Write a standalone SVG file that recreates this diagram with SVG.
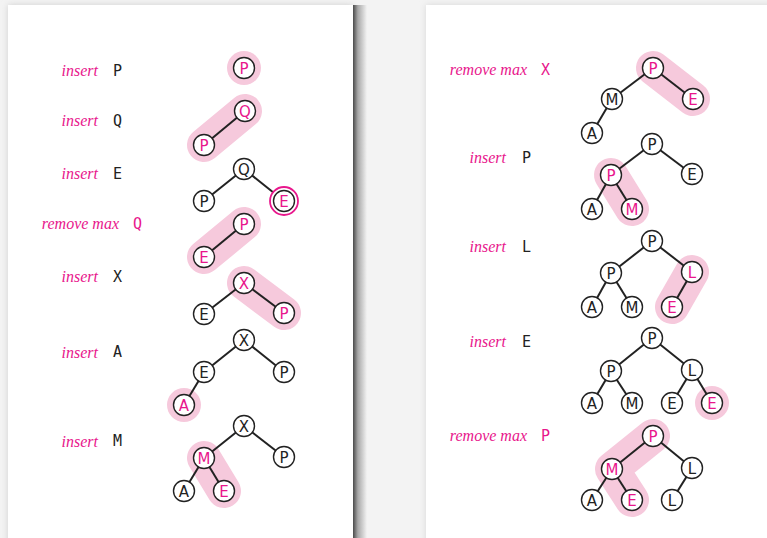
<svg xmlns="http://www.w3.org/2000/svg" width="767" height="538" viewBox="0 0 767 538">
<defs>
<style>
.op{font-family:"Liberation Serif",serif;font-style:italic;font-size:16px;fill:#e8168c;text-anchor:end}
.key{font-family:"DejaVu Sans Mono",monospace;font-size:15px;fill:#222}
.key.m{fill:#e8168c}
.n circle{fill:#fff;stroke:#222;stroke-width:1.4}
.n text{font-family:"DejaVu Sans",sans-serif;font-size:15px;fill:#222;text-anchor:middle}
.n.m text{fill:#e8168c}
.e line{stroke:#222;stroke-width:2}
.h line,.h polyline{stroke:#f6c9dc;stroke-width:34;stroke-linecap:round;stroke-linejoin:round;fill:none}
.h circle{fill:#f6c9dc}
</style>
<linearGradient id="shR" x1="0" x2="1" y1="0" y2="0">
<stop offset="0" stop-color="#4a4a4a"/><stop offset="0.35" stop-color="#a8a8a8"/><stop offset="1" stop-color="#f3f3f3"/>
</linearGradient>
<filter id="soft" x="-5%" y="-5%" width="110%" height="110%"><feGaussianBlur stdDeviation="3"/></filter>
</defs>
<rect width="767" height="538" fill="#f3f3f3"/>
<rect x="8" y="5" width="345" height="560" fill="#d0d0d0" filter="url(#soft)"/>
<rect x="426" y="5" width="360" height="560" fill="#d8d8d8" filter="url(#soft)"/>
<rect x="353" y="5" width="14" height="540" fill="url(#shR)"/>
<rect x="8" y="5" width="345" height="540" fill="#fff"/>
<rect x="426" y="5" width="345" height="540" fill="#fff"/>

<g id="labels">
<text class="op" x="98" y="76">insert</text><text class="key" x="113" y="76">P</text>
<text class="op" x="98" y="126">insert</text><text class="key" x="113" y="126">Q</text>
<text class="op" x="98" y="179">insert</text><text class="key" x="113" y="179">E</text>
<text class="op" x="119" y="229">remove max</text><text class="key m" x="133" y="229">Q</text>
<text class="op" x="98" y="282">insert</text><text class="key" x="113" y="282">X</text>
<text class="op" x="98" y="358">insert</text><text class="key" x="113" y="357">A</text>
<text class="op" x="98" y="447">insert</text><text class="key" x="113" y="446">M</text>
<text class="op" x="527" y="75">remove max</text><text class="key m" x="541" y="75">X</text>
<text class="op" x="506" y="163">insert</text><text class="key" x="522" y="163">P</text>
<text class="op" x="506" y="252">insert</text><text class="key" x="522" y="252">L</text>
<text class="op" x="506" y="347">insert</text><text class="key" x="522" y="347">E</text>
<text class="op" x="527" y="441">remove max</text><text class="key m" x="541" y="441">P</text>
</g>

<g id="highlights" class="h">
<circle cx="244" cy="68" r="17"/>
<line x1="245" y1="111" x2="204" y2="145"/>
<line x1="244" y1="224" x2="204" y2="257"/>
<line x1="244" y1="283" x2="284" y2="313"/>
<circle cx="184" cy="405" r="17"/>
<line x1="204" y1="458" x2="224" y2="491"/>
<line x1="653" y1="68" x2="693" y2="99"/>
<line x1="611" y1="175" x2="632" y2="209"/>
<line x1="692" y1="272" x2="672" y2="307"/>
<circle cx="712" cy="403" r="17"/>
<polyline points="653,436 612,469 632,500"/>
</g>

<g id="connectors" class="e">
<line x1="245" y1="111" x2="204" y2="145"/>
<line x1="244" y1="169" x2="204" y2="201"/><line x1="244" y1="169" x2="284" y2="201"/>
<line x1="244" y1="224" x2="204" y2="257"/>
<line x1="244" y1="283" x2="204" y2="314"/><line x1="244" y1="283" x2="284" y2="313"/>
<line x1="244" y1="340" x2="204" y2="372"/><line x1="244" y1="340" x2="284" y2="372"/><line x1="204" y1="372" x2="184" y2="405"/>
<line x1="244" y1="426" x2="204" y2="458"/><line x1="244" y1="426" x2="284" y2="457"/><line x1="204" y1="458" x2="184" y2="491"/><line x1="204" y1="458" x2="224" y2="491"/>
<line x1="653" y1="68" x2="612" y2="99"/><line x1="653" y1="68" x2="693" y2="99"/><line x1="612" y1="99" x2="592" y2="133"/>
<line x1="652" y1="144" x2="611" y2="175"/><line x1="652" y1="144" x2="692" y2="174"/><line x1="611" y1="175" x2="592" y2="209"/><line x1="611" y1="175" x2="632" y2="209"/>
<line x1="652" y1="241" x2="611" y2="273"/><line x1="652" y1="241" x2="692" y2="272"/><line x1="611" y1="273" x2="592" y2="307"/><line x1="611" y1="273" x2="632" y2="307"/><line x1="692" y1="272" x2="672" y2="307"/>
<line x1="652" y1="338" x2="611" y2="371"/><line x1="652" y1="338" x2="692" y2="370"/><line x1="611" y1="371" x2="592" y2="403"/><line x1="611" y1="371" x2="632" y2="403"/><line x1="692" y1="370" x2="672" y2="403"/><line x1="692" y1="370" x2="712" y2="403"/>
<line x1="653" y1="436" x2="612" y2="469"/><line x1="653" y1="436" x2="692" y2="468"/><line x1="612" y1="469" x2="592" y2="500"/><line x1="612" y1="469" x2="632" y2="500"/><line x1="692" y1="468" x2="672" y2="500"/>
</g>

<g id="t1n1" class="n m"><circle cx="244" cy="68" r="10.5"/><text x="244" y="73.5">P</text></g>
<g id="t2n1" class="n m"><circle cx="245" cy="111" r="10.5"/><text x="245" y="116.5">Q</text></g>
<g id="t2n2" class="n m"><circle cx="204" cy="145" r="10.5"/><text x="204" y="150.5">P</text></g>
<g id="t3n1" class="n"><circle cx="244" cy="169" r="10.5"/><text x="244" y="174.5">Q</text></g>
<g id="t3n2" class="n"><circle cx="204" cy="201" r="10.5"/><text x="204" y="206.5">P</text></g>
<g id="t3n3" class="n m"><circle cx="284" cy="201" r="14" style="stroke:#e8168c;stroke-width:1.8"/><circle cx="284" cy="201" r="10.5"/><text x="284" y="206.5">E</text></g>
<g id="t4n1" class="n m"><circle cx="244" cy="224" r="10.5"/><text x="244" y="229.5">P</text></g>
<g id="t4n2" class="n m"><circle cx="204" cy="257" r="10.5"/><text x="204" y="262.5">E</text></g>
<g id="t5n1" class="n m"><circle cx="244" cy="283" r="10.5"/><text x="244" y="288.5">X</text></g>
<g id="t5n2" class="n"><circle cx="204" cy="314" r="10.5"/><text x="204" y="319.5">E</text></g>
<g id="t5n3" class="n m"><circle cx="284" cy="313" r="10.5"/><text x="284" y="318.5">P</text></g>
<g id="t6n1" class="n"><circle cx="244" cy="340" r="10.5"/><text x="244" y="345.5">X</text></g>
<g id="t6n2" class="n"><circle cx="204" cy="372" r="10.5"/><text x="204" y="377.5">E</text></g>
<g id="t6n3" class="n"><circle cx="284" cy="372" r="10.5"/><text x="284" y="377.5">P</text></g>
<g id="t6n4" class="n m"><circle cx="184" cy="405" r="10.5"/><text x="184" y="410.5">A</text></g>
<g id="t7n1" class="n"><circle cx="244" cy="426" r="10.5"/><text x="244" y="431.5">X</text></g>
<g id="t7n2" class="n m"><circle cx="204" cy="458" r="10.5"/><text x="204" y="463.5">M</text></g>
<g id="t7n3" class="n"><circle cx="284" cy="457" r="10.5"/><text x="284" y="462.5">P</text></g>
<g id="t7n4" class="n"><circle cx="184" cy="491" r="10.5"/><text x="184" y="496.5">A</text></g>
<g id="t7n5" class="n m"><circle cx="224" cy="491" r="10.5"/><text x="224" y="496.5">E</text></g>

<g id="t8n1" class="n m"><circle cx="653" cy="68" r="10.5"/><text x="653" y="73.5">P</text></g>
<g id="t8n2" class="n"><circle cx="612" cy="99" r="10.5"/><text x="612" y="104.5">M</text></g>
<g id="t8n3" class="n m"><circle cx="693" cy="99" r="10.5"/><text x="693" y="104.5">E</text></g>
<g id="t8n4" class="n"><circle cx="592" cy="133" r="10.5"/><text x="592" y="138.5">A</text></g>
<g id="t9n1" class="n"><circle cx="652" cy="144" r="10.5"/><text x="652" y="149.5">P</text></g>
<g id="t9n2" class="n m"><circle cx="611" cy="175" r="10.5"/><text x="611" y="180.5">P</text></g>
<g id="t9n3" class="n"><circle cx="692" cy="174" r="10.5"/><text x="692" y="179.5">E</text></g>
<g id="t9n4" class="n"><circle cx="592" cy="209" r="10.5"/><text x="592" y="214.5">A</text></g>
<g id="t9n5" class="n m"><circle cx="632" cy="209" r="10.5"/><text x="632" y="214.5">M</text></g>
<g id="t10n1" class="n"><circle cx="652" cy="241" r="10.5"/><text x="652" y="246.5">P</text></g>
<g id="t10n2" class="n"><circle cx="611" cy="273" r="10.5"/><text x="611" y="278.5">P</text></g>
<g id="t10n3" class="n m"><circle cx="692" cy="272" r="10.5"/><text x="692" y="277.5">L</text></g>
<g id="t10n4" class="n"><circle cx="592" cy="307" r="10.5"/><text x="592" y="312.5">A</text></g>
<g id="t10n5" class="n"><circle cx="632" cy="307" r="10.5"/><text x="632" y="312.5">M</text></g>
<g id="t10n6" class="n m"><circle cx="672" cy="307" r="10.5"/><text x="672" y="312.5">E</text></g>
<g id="t11n1" class="n"><circle cx="652" cy="338" r="10.5"/><text x="652" y="343.5">P</text></g>
<g id="t11n2" class="n"><circle cx="611" cy="371" r="10.5"/><text x="611" y="376.5">P</text></g>
<g id="t11n3" class="n"><circle cx="692" cy="370" r="10.5"/><text x="692" y="375.5">L</text></g>
<g id="t11n4" class="n"><circle cx="592" cy="403" r="10.5"/><text x="592" y="408.5">A</text></g>
<g id="t11n5" class="n"><circle cx="632" cy="403" r="10.5"/><text x="632" y="408.5">M</text></g>
<g id="t11n6" class="n"><circle cx="672" cy="403" r="10.5"/><text x="672" y="408.5">E</text></g>
<g id="t11n7" class="n m"><circle cx="712" cy="403" r="10.5"/><text x="712" y="408.5">E</text></g>
<g id="t12n1" class="n m"><circle cx="653" cy="436" r="10.5"/><text x="653" y="441.5">P</text></g>
<g id="t12n2" class="n m"><circle cx="612" cy="469" r="10.5"/><text x="612" y="474.5">M</text></g>
<g id="t12n3" class="n"><circle cx="692" cy="468" r="10.5"/><text x="692" y="473.5">L</text></g>
<g id="t12n4" class="n"><circle cx="592" cy="500" r="10.5"/><text x="592" y="505.5">A</text></g>
<g id="t12n5" class="n m"><circle cx="632" cy="500" r="10.5"/><text x="632" y="505.5">E</text></g>
<g id="t12n6" class="n"><circle cx="672" cy="500" r="10.5"/><text x="672" y="505.5">L</text></g>
</svg>
